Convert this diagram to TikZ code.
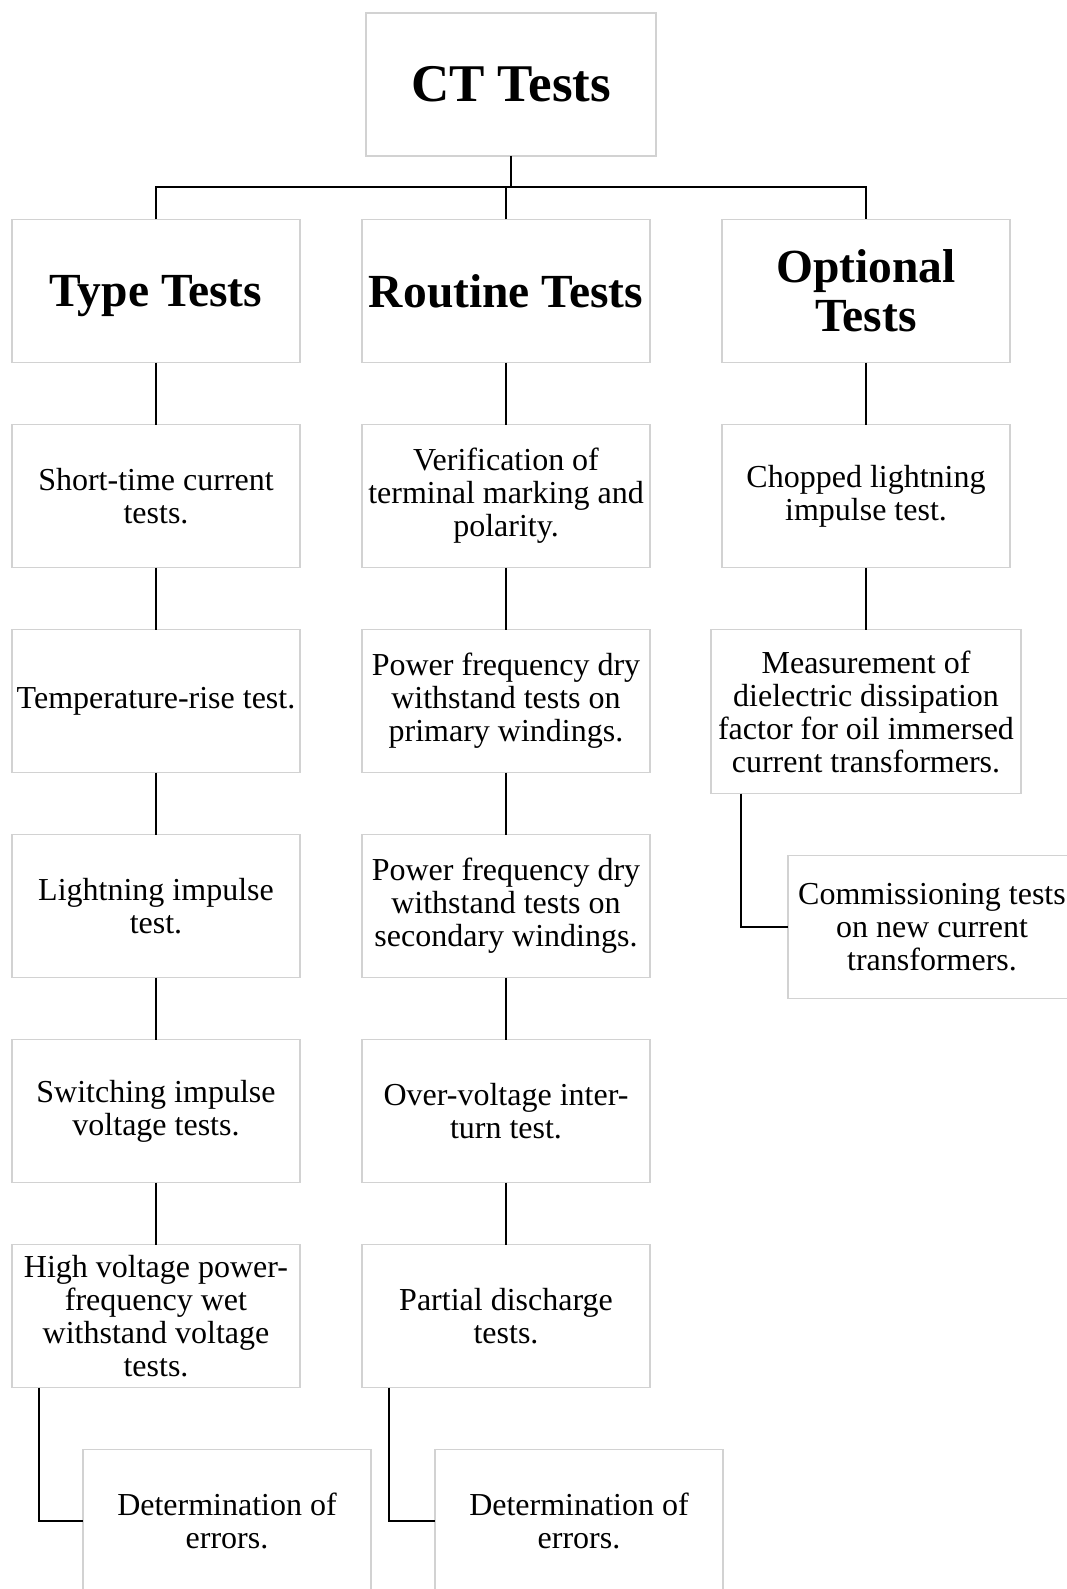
\documentclass[tikz,border=0pt]{standalone}
\usepackage{fontspec}
\setmainfont{Liberation Serif}
\usetikzlibrary{positioning}
\tikzset{
  testbox/.style={draw=gray!35,line width=1.5pt,outer sep=0pt,minimum width=288pt,minimum height=143pt,
    align=center,inner sep=2pt,font=\fontsize{32}{33}\selectfont},
  headbox/.style={testbox,font=\bfseries\fontsize{47.5}{49}\selectfont},
  rootbox/.style={testbox,minimum width=290pt,font=\bfseries\fontsize{53}{55}\selectfont},
  link/.style={line width=2pt}
}

\begin{document}
\begin{tikzpicture}[x=1pt,y=1pt,node distance=62pt]
  \useasboundingbox[fill=white] (0,0) rectangle (1067,-1589);
  \node[rootbox] (ct) at (511,-84.5) {CT Tests};
  \node[headbox,text depth=0pt] (ty) at (156,-291) {Type Tests};
  \node[headbox] (rt) at (506,-291) {Routine Tests};
  \node[headbox] (op) at (866,-291) {Optional\\Tests};
  % type tests
  \node[testbox] (ty1) [below=of ty]  {Short-time current\\tests.};
  \node[testbox] (ty2) [below=of ty1] {Temperature-rise test.};
  \node[testbox] (ty3) [below=of ty2] {Lightning impulse\\test.};
  \node[testbox] (ty4) [below=of ty3] {Switching impulse\\voltage tests.};
  \node[testbox] (ty5) [below=of ty4] {High voltage power-\\frequency wet\\withstand voltage\\tests.};
  \node[testbox] (dt1) [below=of ty5.south west,anchor=north west,xshift=71pt] {Determination of\\errors.};
  % routine tests
  \node[testbox] (rt1) [below=of rt]  {Verification of\\terminal marking and\\polarity.};
  \node[testbox] (rt2) [below=of rt1] {Power frequency dry\\withstand tests on\\primary windings.};
  \node[testbox] (rt3) [below=of rt2] {Power frequency dry\\withstand tests on\\secondary windings.};
  \node[testbox] (rt4) [below=of rt3] {Over-voltage inter-\\turn test.};
  \node[testbox] (rt5) [below=of rt4] {Partial discharge\\tests.};
  \node[testbox] (dt2) [below=of rt5.south west,anchor=north west,xshift=73pt] {Determination of\\errors.};
  % optional tests
  \node[testbox] (op1) [below=of op]  {Chopped lightning\\impulse test.};
  \node[testbox,minimum width=310pt,minimum height=164pt] (ms) [below=of op1]
    {Measurement of\\dielectric dissipation\\factor for oil immersed\\current transformers.};
  \node[testbox] (cm) [below=of ms.south west,anchor=north west,xshift=77pt]
    {Commissioning tests\\on new current\\transformers.};

  \draw[link] (ct.south) -- ++(0,-31) coordinate (bus);
  \draw[link] (ty.north) |- (bus) -| (op.north);
  \draw[link] (rt.north) -- (rt.north |- bus);
  \foreach \a/\b in {ty/ty1,ty1/ty2,ty2/ty3,ty3/ty4,ty4/ty5,
                     rt/rt1,rt1/rt2,rt2/rt3,rt3/rt4,rt4/rt5,
                     op/op1,op1/ms}
    \draw[link] (\a) -- (\b);
  \draw[link] ([xshift=27pt]ty5.south west) |- (dt1.west);
  \draw[link] ([xshift=27pt]rt5.south west) |- (dt2.west);
  \draw[link] ([xshift=30pt]ms.south west) |- (cm.west);
\end{tikzpicture}
\end{document}
